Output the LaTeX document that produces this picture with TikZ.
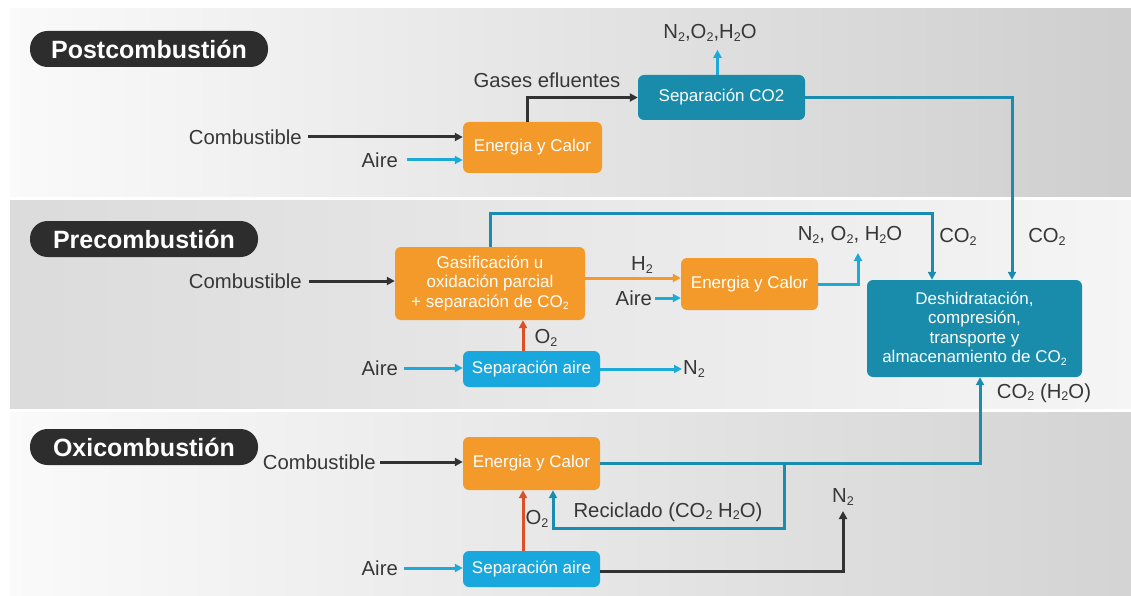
\documentclass[tikz,border=0pt]{standalone}
\usepackage{fontspec}
\setmainfont{Liberation Sans}
\usetikzlibrary{arrows.meta,calc}
\definecolor{orangebox}{RGB}{243,154,42}
\definecolor{tealbox}{RGB}{24,140,170}
\definecolor{bluebox}{RGB}{25,168,222}
\definecolor{cyanline}{RGB}{30,170,215}
\definecolor{tealline}{RGB}{25,140,175}
\definecolor{redline}{RGB}{220,80,40}
\definecolor{darkline}{RGB}{50,50,50}
\definecolor{pillcol}{RGB}{45,45,45}
\definecolor{txt}{RGB}{55,55,55}
\newcommand{\sub}[1]{\raisebox{-0.25ex}{\scalebox{0.62}{#1}}}
\tikzset{
  box/.style={rounded corners=6pt, text=white, align=center, inner sep=2pt,
    font=\fontsize{17}{19.5}\selectfont},
  obox/.style={box, fill=orangebox},
  tbox/.style={box, fill=tealbox},
  bbox/.style={box, fill=bluebox},
  lbl/.style={text=txt, inner sep=1pt, font=\fontsize{20.3}{23}\selectfont},
  pillnode/.style={fill=pillcol, rounded corners=17.5pt, text=white, minimum height=36pt,
    font=\bfseries\fontsize{25}{27}\selectfont},
  conn/.style={line width=3pt, -{Triangle[length=8pt,width=8pt]}},
  blk/.style={conn, draw=darkline, -{Triangle[length=8pt,width=8pt,fill=darkline]}},
  cyn/.style={conn, draw=cyanline, -{Triangle[length=8pt,width=8pt,fill=cyanline]}},
  tln/.style={conn, draw=tealline, -{Triangle[length=8pt,width=8pt,fill=tealline]}},
  red/.style={conn, draw=redline, -{Triangle[length=8pt,width=8pt,fill=redline]}},
  org/.style={conn, draw=orangebox, -{Triangle[length=8pt,width=8pt,fill=orangebox]}},
}
\begin{document}
\begin{tikzpicture}[x=1pt,y=-1pt]
\useasboundingbox (0,0) rectangle (1131,596);
% bands
\shade[left color=black!2, right color=black!19] (10,9) rectangle (1131,196);
\shade[left color=black!14, right color=black!4] (10,200) rectangle (1131,408);
\shade[left color=black!2, right color=black!17] (10,412) rectangle (1131,596);

% pills
\node[pillnode, minimum width=238pt] (postPill) at (149,49) {Postcombustión};
\node[pillnode, minimum width=228pt] (prePill) at (144,239) {Precombustión};
\node[pillnode, minimum width=228pt] (oxiPill) at (144,447) {Oxicombustión};

% ---------- Postcombustion
\node[obox, minimum width=139pt, minimum height=51pt] (postEC) at (532.5,147.5) {Energia y Calor};
\node[tbox, minimum width=167pt, minimum height=45pt] (sepCO2) at (721.5,97.5) {Separación CO2};
\node[lbl, anchor=east] (combPost) at (303,137) {Combustible};
\node[lbl, anchor=east] (airePost) at (399,160) {Aire};
\node[lbl] (gases) at (547,80) {Gases efluentes};
\node[lbl] (outPost) at (710,33) {N\sub{2},O\sub{2},H\sub{2}O};

\draw[blk] (combPost.east) ++(5,0) -- (combPost.east -| postEC.west);
\draw[cyn] (airePost.east) ++(8,0) -- (airePost.east -| postEC.west);
\draw[blk] ([xshift=-5pt]postEC.north) |- (sepCO2.west);
\draw[cyn] ([xshift=-4pt]sepCO2.north) -- ++(0,-25);

% ---------- Deshidratacion
\node[tbox, minimum width=215pt, minimum height=97pt] (deshid) at (974.5,328.5)
  {Deshidratación,\\compresión,\\transporte y\\almacenamiento de CO\sub{2}};
\draw[tln] (sepCO2.east) -| ([xshift=37.5pt]deshid.north);
\node[lbl] (co2a) at (958,237) {CO\sub{2}};
\node[lbl] (co2b) at (1047,237) {CO\sub{2}};
\node[lbl] (co2h2o) at (1044,393) {CO\sub{2} (H\sub{2}O)};

% ---------- Precombustion
\node[obox, minimum width=190pt, minimum height=73pt] (gasif) at (490,283.5)
  {Gasificación u\\oxidación parcial\\+ separación de CO\sub{2}};
\node[obox, minimum width=137pt, minimum height=52pt] (preEC) at (749.5,284) {Energia y Calor};
\node[bbox, minimum width=137pt, minimum height=36pt] (preSep) at (531.5,369) {Separación aire};
\node[lbl, anchor=east] (combPre) at (303,281) {Combustible};
\node[lbl, anchor=east] (airePre) at (399,368) {Aire};
\node[lbl, anchor=east] (aireH) at (653,298) {Aire};
\node[lbl] (h2) at (642,265) {H\sub{2}};
\node[lbl] (o2pre) at (546,338) {O\sub{2}};
\node[lbl, anchor=west] (n2pre) at (682,369) {N\sub{2}};
\node[lbl] (outPre) at (850,235) {N\sub{2}, O\sub{2}, H\sub{2}O};
\coordinate (preOut) at (858,253);

\draw[blk] (combPre.east) ++(6,0) -- (combPre.east -| gasif.west);
\draw[tln] (gasif.north) -- ++(0,-33) -| ([xshift=-42.5pt]deshid.north);
\coordinate (h2a) at ([yshift=5.5pt]gasif.east);
\draw[org] (h2a) -- (h2a -| preEC.west);
\draw[cyn] (aireH.east) ++(2,0) -- (aireH.east -| preEC.west);
\draw[cyn] (preEC.east) -| (preOut);
\draw[red] ([xshift=-8.5pt]preSep.north) -- ([xshift=-8.5pt]preSep.north |- gasif.south);
\draw[cyn] (airePre.east) ++(5,0) -- (airePre.east -| preSep.west);
\draw[cyn] (preSep.east) -- (n2pre.west);

% ---------- Oxicombustion
\node[obox, minimum width=137pt, minimum height=53pt] (oxiEC) at (531.5,463.5) {Energia y Calor};
\node[bbox, minimum width=137pt, minimum height=36pt] (oxiSep) at (531.5,569) {Separación aire};
\node[lbl, anchor=east] (combOxi) at (377,462) {Combustible};
\node[lbl, anchor=east] (aireOxi) at (399,568) {Aire};
\node[lbl] (o2oxi) at (537,519) {O\sub{2}};
\node[lbl] (recic) at (668,512) {Reciclado (CO\sub{2} H\sub{2}O)};
\node[lbl] (n2oxi) at (843,497) {N\sub{2}};
\coordinate (n2end) at (843,511);
\coordinate (rj) at (784,463.5);

\draw[blk] (combOxi.east) ++(3,0) -- (combOxi.east -| oxiEC.west);
\draw[tln] (oxiEC.east) -| ([xshift=5.5pt]deshid.south);
\draw[tln] (rj) -- ++(0,65) -| ([xshift=21.5pt]oxiEC.south);
\draw[red] ([xshift=-8.5pt]oxiSep.north) -- ([xshift=-8.5pt]oxiEC.south);
\draw[cyn] (aireOxi.east) ++(5,0) -- (aireOxi.east -| oxiSep.west);
\draw[blk] ([yshift=-2pt]oxiSep.east) -| (n2end);
\end{tikzpicture}
\end{document}
